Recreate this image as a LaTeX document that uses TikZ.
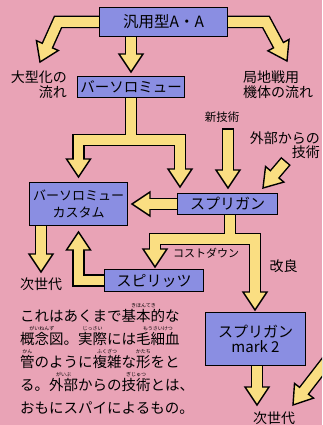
\documentclass[tikz,border=0pt]{standalone}
\usepackage{fontspec}
\setmainfont{Noto Sans CJK JP}
\usetikzlibrary{calc,backgrounds}

\definecolor{bgpink}{RGB}{233,163,182}
\definecolor{boxblue}{RGB}{138,142,226}
\definecolor{armyellow}{RGB}{250,222,130}

% furigana over a word
\newcommand{\furi}[2]{\ooalign{#1\cr\hidewidth\raisebox{0.93em}{\fontsize{5}{5}\selectfont #2}\hidewidth\cr}}

% fat arrow: shaft up to the head, and the head itself
\newcommand{\fatshaft}[4]{\draw[#1] #2 -- ($(#4)!15pt!(#3)$);}
\newcommand{\fathead}[2]{%
  \coordinate (hb) at ($(#2)!18pt!(#1)$);
  \filldraw[headline] (#2) -- ($(hb)!12pt!90:(#2)$) -- ($(hb)!12pt!-90:(#2)$) -- cycle;}

\newcommand{\allshafts}[1]{%
  \fatshaft{#1}{(a0)}{a0}{a1}
  \fatshaft{#1}{(b0) -- (b1)}{b1}{b2}
  \fatshaft{#1}{(c0) -- (c1)}{c1}{c2}
  \draw[#1] (d0) -- (d1);
  \fatshaft{#1}{(d1) -- (d2)}{d2}{d3}
  \fatshaft{#1}{(d1) -- (d4)}{d4}{d5}
  \fatshaft{#1, free}{(e0)}{e0}{e1}
  \fatshaft{#1, free}{(f0)}{f0}{f1}
  \fatshaft{#1}{(g0)}{g0}{g1}
  \draw[#1] (h0) -- (h1);
  \fatshaft{#1}{(h1) -- (h2)}{h2}{h3}
  \fatshaft{#1}{(h1) -- (h4)}{h4}{h5}
  \fatshaft{#1}{(i0) -- (i1)}{i1}{i2}
  \fatshaft{#1}{(j0)}{j0}{j1}
  \fatshaft{#1}{(k0)}{k0}{k1}
  \fatshaft{#1}{(l0)}{l0}{l1}}

\begin{document}
\begin{tikzpicture}[x=1pt, y=-1pt,
    box/.style={draw, line width=1.4pt, fill=boxblue, inner sep=0pt, align=center},
    lbl/.style={inner sep=0pt, font=\fontsize{14}{15.5}\selectfont},
    shaftout/.style={draw=black, line width=12.5pt, line join=miter, free/.style={}},
    shaftin/.style={draw=armyellow, line width=9.6pt, line join=miter, free/.style={shorten <=1.5pt}},
    headline/.style={fill=armyellow, draw=black, line width=1.4pt, line join=miter}]
\useasboundingbox (0,0) rectangle (322,425);

% Nodes
\node[box, minimum width=127.6pt, minimum height=28.6pt, font=\fontsize{15.5}{17}\selectfont] (gen) at (163.5,22) {汎用型A・A};
\node[box, minimum width=106.6pt, minimum height=20.6pt, font=\fontsize{14.5}{16}\selectfont] (bart) at (131,87) {バーソロミュー};
\node[box, minimum width=97.6pt, minimum height=42.6pt, font=\fontsize{13}{16.5}\selectfont] (custom) at (78.5,204) {バーソロミュー\\カスタム};
\node[box, minimum width=99.6pt, minimum height=20.6pt, font=\fontsize{15}{16}\selectfont] (sprig) at (227.5,204) {スプリガン};
\node[box, minimum width=98.6pt, minimum height=21.6pt, font=\fontsize{15}{16}\selectfont] (spirits) at (154,280.5) {スピリッツ};
\node[box, minimum width=99.6pt, minimum height=52.6pt, font=\fontsize{15}{15.5}\selectfont] (mark2) at (255.5,339) {スプリガン\\mark 2};

% Labels
\node[lbl, anchor=east, align=right] (bigflow) at (67,84.5) {大型化の\\流れ};
\node[lbl, anchor=west, align=left] (localflow) at (243,84.5) {局地戦用\\機体の流れ};
\node[lbl, font=\fontsize{11.5}{12}\selectfont] (newtech) at (222,117) {新技術};
\node[lbl, anchor=east, align=right, font=\fontsize{14}{14.5}\selectfont] (outside) at (320,145) {外部からの\\技術};
\node[lbl, font=\fontsize{11}{12}\selectfont] (costdown) at (206,253) {コストダウン};
\node[lbl] (kairyo) at (283.5,266) {改良};
\node[lbl] (next1) at (41,284) {次世代};
\node[lbl] (next2) at (274,418) {次世代};
\node[lbl, anchor=north west, align=left, font=\fontsize{14.5}{23}\selectfont] (note) at (20,309) {%
これはあくまで\furi{基本的}{きほんてき}な\\
\furi{概念図}{がいねんず}。\furi{実際}{じっさい}には\furi{毛細血}{もうさいけつ}\\
\furi{管}{かん}のように\furi{複雑}{ふくざつ}な\furi{形}{かたち}をと\\
る。\furi{外部}{がいぶ}からの\furi{技術}{ぎじゅつ}とは、\\
おもにスパイによるもの。};

% Arrows
\begin{scope}[on background layer]
  \clip (0,0) rectangle (322,425);
  \fill[bgpink] (0,0) rectangle (322,425);

  \coordinate (a0) at (bart.north |- gen.center);
  \coordinate (a1) at ($(bart.north)+(0,-4)$);
  \coordinate (b0) at (gen.center);
  \coordinate (b1) at (58,22);
  \coordinate (b2) at (40,62);
  \coordinate (c0) at (gen.center);
  \coordinate (c1) at (266,22);
  \coordinate (c2) at (287,61);
  \coordinate (d0) at (bart.center);
  \coordinate (d1) at ($(bart.south)+(0,42)$);
  \coordinate (d2) at (custom.north |- d1);
  \coordinate (d3) at ($(custom.north)+(0,-5)$);
  \coordinate (d4) at ($(sprig.north)+(-47.5,-53)$);
  \coordinate (d5) at ($(sprig.north)+(-47.5,-6)$);
  \coordinate (e0) at (228,128);
  \coordinate (e1) at ($(sprig.north)+(0.5,-5)$);
  \coordinate (f0) at (286,161);
  \coordinate (f1) at ($(sprig.north east)+(-15,-5)$);
  \coordinate (g0) at (sprig.center);
  \coordinate (g1) at ($(custom.east)+(4,0)$);
  \coordinate (h0) at ($(sprig.center)+(2.5,0)$);
  \coordinate (h1) at ($(sprig.south)+(2.5,24)$);
  \coordinate (h2) at ($(spirits.north)+(1,-30)$);
  \coordinate (h3) at ($(spirits.north)+(1,-2)$);
  \coordinate (h4) at ($(mark2.north)+(-0.5,-73)$);
  \coordinate (h5) at ($(mark2.north)+(-0.5,-2)$);
  \coordinate (i0) at (spirits.center);
  \coordinate (i1) at (custom.south |- spirits.center);
  \coordinate (i2) at ($(custom.south)+(0,6)$);
  \coordinate (j0) at ($(custom.center)+(-37.5,0)$);
  \coordinate (j1) at (41,272);
  \coordinate (k0) at ($(mark2.center)+(1.5,0)$);
  \coordinate (k1) at (257,405);
  \coordinate (l0) at (334,352);
  \coordinate (l1) at (293,405);

  \allshafts{shaftout}
  \fathead{a0}{a1} \fathead{b1}{b2} \fathead{c1}{c2}
  \fathead{d2}{d3} \fathead{d4}{d5} \fathead{e0}{e1}
  \fathead{f0}{f1} \fathead{g0}{g1} \fathead{h2}{h3}
  \fathead{h4}{h5} \fathead{i1}{i2} \fathead{j0}{j1}
  \fathead{k0}{k1} \fathead{l0}{l1}
  \allshafts{shaftin}
\end{scope}
\end{tikzpicture}
\end{document}
